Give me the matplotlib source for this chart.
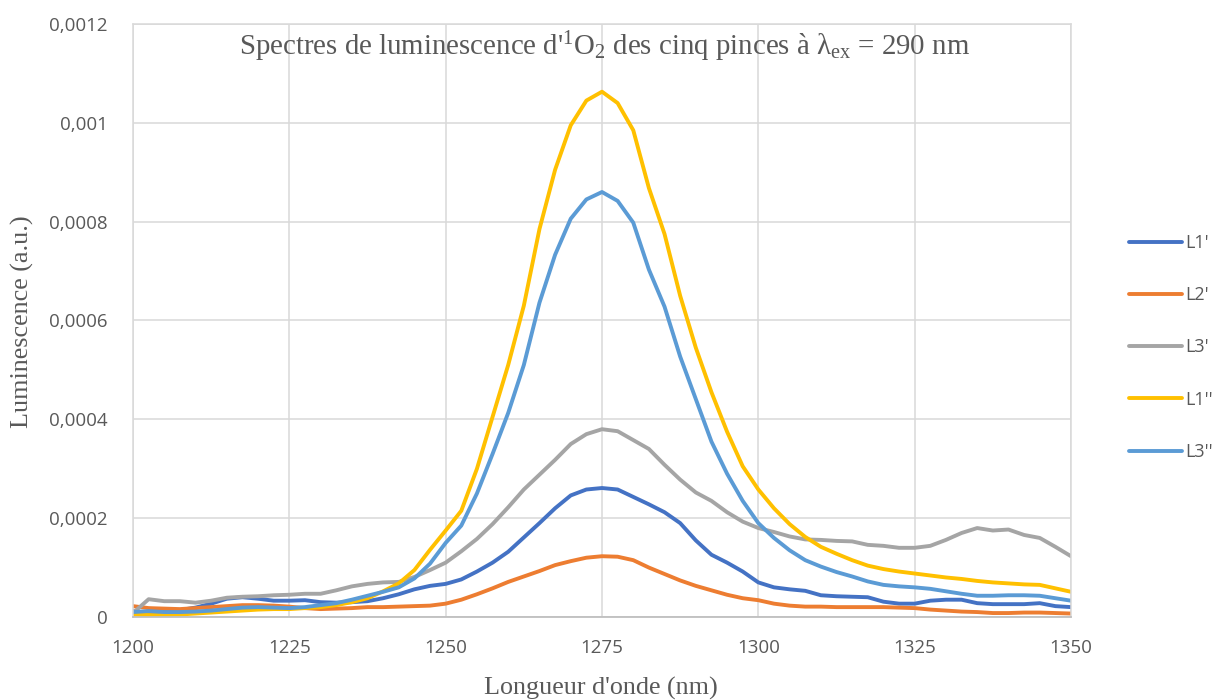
import matplotlib
matplotlib.use("Agg")
import matplotlib.pyplot as plt
from matplotlib.ticker import MultipleLocator, FuncFormatter
import numpy as np

# Wavelength grid (nm)
wavelength = np.arange(1200, 1350.01, 2.5)

# Luminescence spectra (a.u.)
L1p = [0.000012, 0.000006, 0.000012, 0.000014, 0.000019, 0.000027, 0.000037, 0.000040, 0.000037, 0.000033,
       0.000033, 0.000034, 0.000030, 0.000029, 0.000030, 0.000032, 0.000038, 0.000046, 0.000056, 0.000063,
       0.000067, 0.000076, 0.000092, 0.000110, 0.000132, 0.000161, 0.000190, 0.000220, 0.000246, 0.000258,
       0.000261, 0.000258, 0.000243, 0.000228, 0.000212, 0.000190, 0.000155, 0.000126, 0.000110, 0.000092,
       0.000070, 0.000060, 0.000056, 0.000053, 0.000044, 0.000042, 0.000041, 0.000040, 0.000031, 0.000027,
       0.000027, 0.000033, 0.000035, 0.000035, 0.000028, 0.000026, 0.000026, 0.000026, 0.000028, 0.000022,
       0.000020]
L2p = [0.000022, 0.000018, 0.000017, 0.000016, 0.000018, 0.000020, 0.000022, 0.000024, 0.000024, 0.000023,
       0.000021, 0.000018, 0.000016, 0.000017, 0.000018, 0.000020, 0.000020, 0.000021, 0.000022, 0.000023,
       0.000027, 0.000035, 0.000046, 0.000058, 0.000071, 0.000082, 0.000093, 0.000105, 0.000113, 0.000120,
       0.000123, 0.000122, 0.000115, 0.000100, 0.000087, 0.000074, 0.000063, 0.000054, 0.000045, 0.000038,
       0.000034, 0.000027, 0.000023, 0.000021, 0.000021, 0.000020, 0.000020, 0.000020, 0.000020, 0.000019,
       0.000018, 0.000015, 0.000013, 0.000011, 0.000010, 0.000008, 0.000008, 0.000009, 0.000009, 0.000008,
       0.000007]
L3p = [0.000008, 0.000036, 0.000032, 0.000032, 0.000029, 0.000033, 0.000039, 0.000041, 0.000042, 0.000044,
       0.000045, 0.000047, 0.000047, 0.000054, 0.000062, 0.000067, 0.000070, 0.000071, 0.000081, 0.000095,
       0.000110, 0.000133, 0.000158, 0.000188, 0.000222, 0.000258, 0.000288, 0.000318, 0.000350, 0.000370,
       0.000380, 0.000376, 0.000358, 0.000340, 0.000308, 0.000278, 0.000252, 0.000235, 0.000212, 0.000193,
       0.000180, 0.000172, 0.000163, 0.000157, 0.000156, 0.000154, 0.000153, 0.000146, 0.000144, 0.000140,
       0.000140, 0.000144, 0.000156, 0.000170, 0.000180, 0.000175, 0.000177, 0.000166, 0.000160, 0.000142,
       0.000123]
L1pp = [0.000005, 0.000004, 0.000004, 0.000005, 0.000007, 0.000009, 0.000011, 0.000013, 0.000015, 0.000016,
        0.000016, 0.000018, 0.000020, 0.000024, 0.000030, 0.000038, 0.000052, 0.000068, 0.000095, 0.000136,
        0.000175, 0.000215, 0.000300, 0.000405, 0.000510, 0.000630, 0.000785, 0.000905, 0.000995, 0.001045,
        0.001063, 0.001040, 0.000985, 0.000868, 0.000775, 0.000650, 0.000545, 0.000455, 0.000375, 0.000305,
        0.000258, 0.000220, 0.000188, 0.000162, 0.000142, 0.000128, 0.000115, 0.000104, 0.000097, 0.000092,
        0.000088, 0.000084, 0.000080, 0.000077, 0.000073, 0.000070, 0.000068, 0.000066, 0.000065, 0.000058,
        0.000051]
L3pp = [0.000010, 0.000012, 0.000010, 0.000010, 0.000011, 0.000013, 0.000016, 0.000019, 0.000020, 0.000019,
        0.000018, 0.000020, 0.000024, 0.000028, 0.000035, 0.000043, 0.000051, 0.000060, 0.000078, 0.000108,
        0.000150, 0.000185, 0.000250, 0.000330, 0.000413, 0.000510, 0.000636, 0.000733, 0.000806, 0.000845,
        0.000860, 0.000842, 0.000798, 0.000703, 0.000628, 0.000527, 0.000441, 0.000355, 0.000290, 0.000235,
        0.000190, 0.000160, 0.000135, 0.000115, 0.000102, 0.000091, 0.000082, 0.000072, 0.000065, 0.000062,
        0.000060, 0.000057, 0.000052, 0.000047, 0.000043, 0.000043, 0.000044, 0.000044, 0.000043, 0.000038,
        0.000033]

series_labels = ["L1'", "L2'", "L3'", "L1''", "L3''"]
series_values = [L1p, L2p, L3p, L1pp, L3pp]
series_colors = ["#4472C4", "#ED7D31", "#A5A5A5", "#FFC000", "#5B9BD5"]

plt.rcParams["mathtext.fontset"] = "custom"
plt.rcParams["mathtext.rm"] = "Liberation Serif"
plt.rcParams["mathtext.it"] = "Liberation Serif:italic"

W, H = 1228, 700
fig = plt.figure(figsize=(W / 100, H / 100), dpi=100)
ax = fig.add_axes([133 / W, 83 / H, (1071 - 133) / W, (617 - 24) / H])

for label, vals, color in zip(series_labels, series_values, series_colors):
    ax.plot(wavelength, vals, color=color, lw=2.8, label=label,
            solid_capstyle="round", solid_joinstyle="round")

ax.set_xlim(1200, 1350)
ax.set_ylim(0, 0.0012)
ax.xaxis.set_major_locator(MultipleLocator(25))
ax.yaxis.set_major_locator(MultipleLocator(0.0002))
ax.yaxis.set_major_formatter(FuncFormatter(lambda v, p: ("{:g}".format(round(v, 6))).replace(".", ",")))

ax.grid(True, color="#D9D9D9", lw=1.1)
ax.set_axisbelow(True)
for side in ["top", "right", "left"]:
    ax.spines[side].set_color("#D9D9D9")
    ax.spines[side].set_linewidth(1.1)
ax.spines["bottom"].set_color("#BFBFBF")
ax.spines["bottom"].set_linewidth(1.3)

ax.tick_params(axis="both", length=0, labelsize=13.5, labelcolor="#595959")
ax.tick_params(axis="y", pad=18)
ax.tick_params(axis="x", pad=16)
for t in ax.get_xticklabels() + ax.get_yticklabels():
    t.set_fontfamily("Open Sans")

fig.text(605 / W, 1 - 47 / H,
         "Spectres de luminescence d'$^{\\mathrm{1}}$O$_{\\mathrm{2}}$ des cinq pinces à λ$_{\\mathrm{ex}}$ = 290 nm",
         ha="center", va="center", fontsize=20.8, family="Liberation Serif", color="#595959")

fig.text(601 / W, 1 - 688 / H, "Longueur d'onde (nm)", ha="center", va="center",
         fontsize=18.8, family="Liberation Serif", color="#595959")
fig.text(22 / W, 1 - 322 / H, "Luminescence (a.u.)", ha="center", va="center",
         rotation=90, fontsize=18.8, family="Liberation Serif", color="#595959")

leg = ax.legend(loc="center left", bbox_to_anchor=(1.0545, 1 - (347.5 - 24) / 593), frameon=False,
                handlelength=2.9, handletextpad=0.2, labelspacing=1.9, borderaxespad=0,
                prop={"family": "Open Sans", "size": 13})
for t in leg.get_texts():
    t.set_color("#595959")

fig.savefig("out.png", dpi=100)
